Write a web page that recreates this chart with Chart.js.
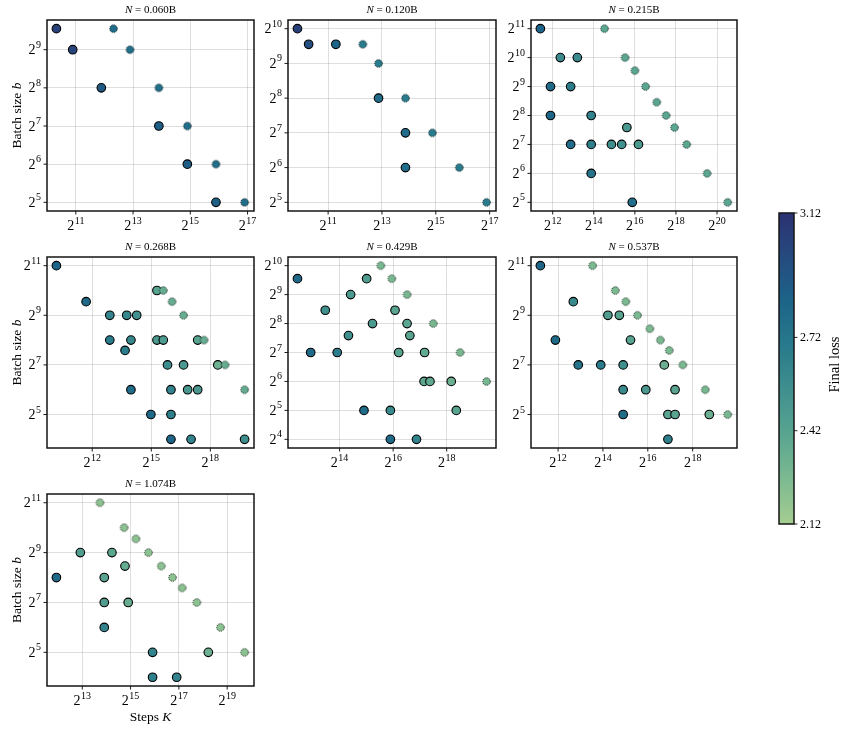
<!DOCTYPE html>
<html>
<head>
<meta charset="utf-8">
<script src="https://cdn.jsdelivr.net/npm/chart.js@4.4.1/dist/chart.umd.min.js"></script>
<style>
html, body { margin: 0; padding: 0; background: #fff; }
#wrap { position: relative; width: 846px; height: 729px; }
#wrap canvas { position: absolute; left: 0; top: 0; }
</style>
</head>
<body>
<div id="wrap"></div>
<script>
// model sizes (panel titles)
const modelSizes = ['0.060B', '0.120B', '0.215B', '0.268B', '0.429B', '0.537B', '1.074B'];

// colorbar
const lossMin = 2.12;
const lossMax = 3.12;
const lossTicks = [2.12, 2.42, 2.72, 3.12];

// N = 0.060B
const runSteps060 = [1280, 1900, 3800, 15300, 30500, 61000];
const runBatch060 = [750, 512, 256, 128, 64, 32];
const runLoss060 = [3.03, 3.01, 2.90, 2.87, 2.87, 2.86];
const optSteps060 = [5100, 7600, 15300, 30500, 61000, 122000];
const optBatch060 = [750, 512, 256, 128, 64, 32];
const optLoss060 = [2.77, 2.76, 2.76, 2.76, 2.76, 2.76];
const xTickExp060 = [11, 13, 15, 17];
const yTickExp060 = [5, 6, 7, 8, 9];

// N = 0.120B
const runSteps120 = [930, 1240, 2500, 7500, 15000, 15000];
const runBatch120 = [1024, 750, 750, 256, 128, 64];
const runLoss120 = [3.04, 2.96, 2.83, 2.79, 2.78, 2.78];
const optSteps120 = [5000, 7500, 15000, 30000, 60000, 121000];
const optBatch120 = [750, 512, 256, 128, 64, 32];
const optLoss120 = [2.68, 2.68, 2.68, 2.68, 2.68, 2.68];
const xTickExp120 = [11, 13, 15, 17];
const yTickExp120 = [5, 6, 7, 8, 9, 10];

// N = 0.215B
const runSteps215 = [2700, 5300, 9400, 3800, 7500, 3800, 15000, 50000, 7500, 15000, 29700, 42000, 74000, 15000, 60000];
const runBatch215 = [2048, 1024, 1024, 512, 512, 256, 256, 192, 128, 128, 128, 128, 128, 64, 32];
const runLoss215 = [2.84, 2.58, 2.58, 2.80, 2.67, 2.82, 2.63, 2.50, 2.78, 2.66, 2.56, 2.55, 2.49, 2.74, 2.77];
const optSteps215 = [23500, 47000, 65500, 94000, 137000, 188000, 250000, 376000, 750000, 1500000];
const optBatch215 = [2048, 1024, 750, 512, 352, 256, 192, 128, 64, 32];
const optLoss215 = [2.40, 2.40, 2.40, 2.40, 2.40, 2.40, 2.40, 2.40, 2.40, 2.40];
const xTickExp215 = [12, 14, 16, 18, 20];
const yTickExp215 = [5, 6, 7, 8, 9, 10, 11];

// N = 0.268B
const runSteps268 = [1160, 3300, 7600, 13800, 19600, 7600, 16000, 13000, 40000, 40000, 50000, 58000, 102000, 168000, 341000, 16000, 65500, 118000, 168000, 32300, 65500, 65500, 133000, 876000];
const runBatch268 = [2048, 750, 512, 512, 512, 256, 256, 192, 1024, 256, 256, 128, 128, 256, 128, 64, 64, 64, 64, 32, 32, 16, 16, 16];
const runLoss268 = [2.83, 2.80, 2.62, 2.60, 2.55, 2.67, 2.60, 2.67, 2.42, 2.48, 2.47, 2.57, 2.48, 2.41, 2.32, 2.79, 2.63, 2.50, 2.50, 2.81, 2.66, 2.82, 2.63, 2.56];
const optSteps268 = [50000, 68000, 102000, 210000, 440000, 876000];
const optBatch268 = [1024, 750, 512, 256, 128, 64];
const optLoss268 = [2.36, 2.36, 2.36, 2.36, 2.36, 2.37];
const xTickExp268 = [12, 15, 18];
const yTickExp268 = [5, 7, 9, 11];

// N = 0.429B
const runSteps429 = [5500, 21800, 11300, 33000, 38400, 68800, 94000, 20600, 101000, 7750, 15400, 75800, 148000, 146000, 170000, 295000, 30800, 61000, 336000, 61000, 120000];
const runBatch429 = [750, 512, 352, 750, 256, 352, 256, 192, 192, 128, 128, 128, 128, 64, 64, 64, 32, 32, 32, 16, 16];
const runLoss429 = [2.80, 2.48, 2.55, 2.46, 2.48, 2.41, 2.40, 2.55, 2.41, 2.80, 2.67, 2.41, 2.37, 2.39, 2.38, 2.33, 2.78, 2.59, 2.41, 2.80, 2.63];
const optSteps429 = [47600, 63300, 94000, 185000, 371000, 736000];
const optBatch429 = [1024, 750, 512, 256, 128, 64];
const optLoss429 = [2.28, 2.28, 2.28, 2.28, 2.28, 2.29];
const xTickExp429 = [14, 16, 18];
const yTickExp429 = [4, 5, 6, 7, 8, 9, 10];

// N = 0.537B
const runSteps537 = [2370, 6560, 3770, 19100, 27200, 38400, 7640, 15300, 30600, 109000, 30600, 61600, 152000, 30600, 122000, 152000, 438000, 122000];
const runBatch537 = [2048, 750, 256, 512, 512, 256, 128, 128, 128, 128, 64, 64, 64, 32, 32, 32, 32, 16];
const runLoss537 = [2.82, 2.59, 2.80, 2.46, 2.42, 2.41, 2.74, 2.68, 2.55, 2.33, 2.59, 2.48, 2.41, 2.77, 2.41, 2.41, 2.33, 2.66];
const optSteps537 = [11900, 24000, 33200, 47600, 69800, 96600, 127000, 193000, 386000, 772000];
const optBatch537 = [2048, 1024, 750, 512, 352, 256, 192, 128, 64, 32];
const optLoss537 = [2.27, 2.27, 2.27, 2.27, 2.27, 2.27, 2.27, 2.27, 2.28, 2.28];
const xTickExp537 = [12, 14, 16, 18];
const yTickExp537 = [5, 7, 9, 11];

// N = 1.074B
const runSteps1074 = [3900, 7750, 19200, 15400, 27900, 15400, 30600, 15400, 61600, 305000, 61600, 123000];
const runBatch1074 = [256, 512, 512, 256, 352, 128, 128, 64, 32, 32, 16, 16];
const runLoss1074 = [2.80, 2.46, 2.40, 2.41, 2.36, 2.46, 2.36, 2.63, 2.63, 2.33, 2.66, 2.63];
const optSteps1074 = [13600, 27200, 38200, 54700, 79000, 109000, 144000, 219000, 432000, 864000];
const optBatch1074 = [2048, 1024, 750, 512, 352, 256, 192, 128, 64, 32];
const optLoss1074 = [2.21, 2.21, 2.21, 2.21, 2.21, 2.21, 2.21, 2.21, 2.21, 2.21];
const xTickExp1074 = [13, 15, 17, 19];
const yTickExp1074 = [5, 7, 9, 11];

const panels = [
    { runK: runSteps060, runB: runBatch060, runL: runLoss060, optK: optSteps060, optB: optBatch060, optL: optLoss060, xExp: xTickExp060, yExp: yTickExp060 },
    { runK: runSteps120, runB: runBatch120, runL: runLoss120, optK: optSteps120, optB: optBatch120, optL: optLoss120, xExp: xTickExp120, yExp: yTickExp120 },
    { runK: runSteps215, runB: runBatch215, runL: runLoss215, optK: optSteps215, optB: optBatch215, optL: optLoss215, xExp: xTickExp215, yExp: yTickExp215 },
    { runK: runSteps268, runB: runBatch268, runL: runLoss268, optK: optSteps268, optB: optBatch268, optL: optLoss268, xExp: xTickExp268, yExp: yTickExp268 },
    { runK: runSteps429, runB: runBatch429, runL: runLoss429, optK: optSteps429, optB: optBatch429, optL: optLoss429, xExp: xTickExp429, yExp: yTickExp429 },
    { runK: runSteps537, runB: runBatch537, runL: runLoss537, optK: optSteps537, optB: optBatch537, optL: optLoss537, xExp: xTickExp537, yExp: yTickExp537 },
    { runK: runSteps1074, runB: runBatch1074, runL: runLoss1074, optK: optSteps1074, optB: optBatch1074, optL: optLoss1074, xExp: xTickExp1074, yExp: yTickExp1074 }
];

// layout: axes boxes [left, top, right, bottom]
const W = 846, H = 729;
const boxes = [
    [47, 20, 254, 211], [288, 20, 496, 211], [531, 20, 737, 211],
    [47, 257, 254, 448], [288, 257, 496, 448], [531, 257, 737, 448],
    [47, 494, 254, 686]
];
const cbarBox = [779, 213, 794, 524];
const serif = '"Liberation Serif", "Times New Roman", serif';

// seaborn "crest" colormap
const crestHex = ['#a5cd90', '#7dba91', '#59a590', '#40908e', '#287a8c', '#1c6488', '#254b7f', '#2c3172'];
const crestPos = crestHex.map((_, i) => i / (crestHex.length - 1));

function hexRgb(h) { return [1, 3, 5].map(i => parseInt(h.slice(i, i + 2), 16)); }

function lossColor(v) {
    const t = Math.min(1, Math.max(0, (v - lossMin) / (lossMax - lossMin)));
    let i = 0;
    while (i < crestPos.length - 2 && t > crestPos[i + 1]) i++;
    const f = (t - crestPos[i]) / (crestPos[i + 1] - crestPos[i]);
    const a = hexRgb(crestHex[i]), b = hexRgb(crestHex[i + 1]);
    return 'rgb(' + a.map((c, k) => Math.round(c + (b[k] - c) * f)).join(',') + ')';
}

// dotted-edge marker for the optimal runs
const starCache = {};
function starMarker(color) {
    if (starCache[color]) return starCache[color];
    const c = document.createElement('canvas');
    c.width = 11; c.height = 11;
    const g = c.getContext('2d');
    g.beginPath();
    g.arc(5.5, 5.5, 3.8, 0, Math.PI * 2);
    g.fillStyle = color;
    g.fill();
    g.setLineDash([1.1, 1.1]);
    g.lineWidth = 1;
    g.strokeStyle = 'rgba(0,0,0,0.8)';
    g.stroke();
    starCache[color] = c;
    return c;
}

function logLimits(vals) {
    const l = vals.map(Math.log2);
    const lo = Math.min(...l), hi = Math.max(...l), m = (hi - lo) * 0.05;
    return [Math.pow(2, lo - m), Math.pow(2, hi + m)];
}

function drawMixed(ctx, parts, x, y, size, align) {
    let w = 0;
    parts.forEach(p => { ctx.font = (p[1] ? 'italic ' : '') + size + 'px ' + serif; w += ctx.measureText(p[0]).width; });
    let cx = align === 'center' ? x - w / 2 : x;
    ctx.textAlign = 'left';
    parts.forEach(p => {
        ctx.font = (p[1] ? 'italic ' : '') + size + 'px ' + serif;
        ctx.fillText(p[0], cx, y);
        cx += ctx.measureText(p[0]).width;
    });
}

function drawPow(ctx, x, y, exp, align) {
    ctx.font = '14px ' + serif;
    const wb = ctx.measureText('2').width;
    ctx.font = '10px ' + serif;
    const we = ctx.measureText(String(exp)).width;
    const w = wb + we + 0.5;
    const x0 = align === 'right' ? x - w : x - w / 2;
    ctx.textAlign = 'left';
    ctx.textBaseline = 'alphabetic';
    ctx.font = '14px ' + serif;
    ctx.fillText('2', x0, y);
    ctx.font = '10px ' + serif;
    ctx.fillText(String(exp), x0 + wb + 0.5, y - 6.5);
}

const panelDeco = {
    id: 'panelDeco',
    afterDraw(chart, args, o) {
        const ctx = chart.ctx, a = chart.chartArea, xs = chart.scales.x, ys = chart.scales.y;
        ctx.save();
        ctx.fillStyle = '#000';
        ctx.strokeStyle = '#000';
        ctx.lineWidth = 0.9;
        xs.ticks.forEach(t => {
            const px = xs.getPixelForValue(t.value);
            ctx.beginPath(); ctx.moveTo(px, a.bottom); ctx.lineTo(px, a.bottom + 3.5); ctx.stroke();
            drawPow(ctx, px, a.bottom + 19, Math.round(Math.log2(t.value)), 'center');
        });
        ys.ticks.forEach(t => {
            const py = ys.getPixelForValue(t.value);
            ctx.beginPath(); ctx.moveTo(a.left, py); ctx.lineTo(a.left - 3.5, py); ctx.stroke();
            drawPow(ctx, a.left - 6, py + 4.5, Math.round(Math.log2(t.value)), 'right');
        });
        ctx.lineWidth = 1.5;
        ctx.strokeStyle = '#141414';
        ctx.strokeRect(a.left, a.top, a.right - a.left, a.bottom - a.top);

        ctx.textBaseline = 'alphabetic';
        drawMixed(ctx, [['N', true], [' = ' + o.title, false]], (a.left + a.right) / 2, a.top - 7, 11, 'center');
        if (o.yLabel) {
            ctx.save();
            ctx.translate(17, (a.top + a.bottom) / 2);
            ctx.rotate(-Math.PI / 2);
            ctx.textBaseline = 'middle';
            drawMixed(ctx, [['Batch size ', false], ['b', true]], 0, 0, 13.5, 'center');
            ctx.restore();
        }
        if (o.xLabel) {
            drawMixed(ctx, [['Steps ', false], ['K', true]], (a.left + a.right) / 2, 721, 13.5, 'center');
        }
        ctx.restore();
    }
};

const wrap = document.getElementById('wrap');
function makeCanvas() {
    const c = document.createElement('canvas');
    c.width = W; c.height = H;
    c.style.width = W + 'px'; c.style.height = H + 'px';
    wrap.appendChild(c);
    return c;
}

function pad(b) { return { left: b[0], top: b[1], right: W - b[2], bottom: H - b[3] }; }

const gridOpts = { color: 'rgba(150,150,150,0.35)', lineWidth: 0.9, drawTicks: false };

panels.forEach((p, i) => {
    const xl = logLimits(p.runK.concat(p.optK));
    const yl = logLimits(p.runB.concat(p.optB));
    const optColors = p.optL.map(lossColor);
    new Chart(makeCanvas(), {
        type: 'scatter',
        data: {
            datasets: [
                {
                    data: p.optK.map((k, j) => ({ x: k, y: p.optB[j] })),
                    pointStyle: optColors.map(starMarker),
                    pointRadius: 4,
                    clip: false
                },
                {
                    data: p.runK.map((k, j) => ({ x: k, y: p.runB[j] })),
                    pointBackgroundColor: p.runL.map(lossColor),
                    pointBorderColor: '#000',
                    pointBorderWidth: 1.1,
                    pointRadius: 4.3,
                    clip: false
                }
            ]
        },
        options: {
            responsive: false,
            animation: false,
            devicePixelRatio: 1,
            layout: { autoPadding: false, padding: pad(boxes[i]) },
            plugins: {
                legend: { display: false },
                tooltip: { enabled: false },
                panelDeco: { title: modelSizes[i], yLabel: i % 3 === 0, xLabel: i === 6 }
            },
            scales: {
                x: {
                    type: 'logarithmic', min: xl[0], max: xl[1],
                    afterBuildTicks: s => { s.ticks = p.xExp.map(e => ({ value: Math.pow(2, e) })); },
                    ticks: { display: false }, grid: gridOpts, border: { display: false }
                },
                y: {
                    type: 'logarithmic', min: yl[0], max: yl[1],
                    afterBuildTicks: s => { s.ticks = p.yExp.map(e => ({ value: Math.pow(2, e) })); },
                    ticks: { display: false }, grid: gridOpts, border: { display: false }
                }
            }
        },
        plugins: [panelDeco]
    });
});

// colorbar
const colorbarDeco = {
    id: 'colorbarDeco',
    beforeDatasetsDraw(chart) {
        const ctx = chart.ctx, a = chart.chartArea, ys = chart.scales.y;
        const y0 = ys.getPixelForValue(lossMin), y1 = ys.getPixelForValue(lossMax);
        const grad = ctx.createLinearGradient(0, y0, 0, y1);
        crestHex.forEach((c, i) => grad.addColorStop(crestPos[i], c));
        ctx.save();
        ctx.fillStyle = grad;
        ctx.fillRect(a.left, a.top, a.right - a.left, a.bottom - a.top);
        ctx.restore();
    },
    afterDraw(chart) {
        const ctx = chart.ctx, a = chart.chartArea, ys = chart.scales.y;
        ctx.save();
        ctx.strokeStyle = '#141414';
        ctx.lineWidth = 1.5;
        ctx.strokeRect(a.left, a.top, a.right - a.left, a.bottom - a.top);
        ctx.lineWidth = 0.9;
        ctx.fillStyle = '#000';
        ctx.font = '12px ' + serif;
        ctx.textAlign = 'left';
        ctx.textBaseline = 'middle';
        ys.ticks.forEach(t => {
            const py = ys.getPixelForValue(t.value);
            ctx.beginPath(); ctx.moveTo(a.right, py); ctx.lineTo(a.right + 3.5, py); ctx.stroke();
            ctx.fillText(t.value.toFixed(2), a.right + 6, py + 0.5);
        });
        ctx.translate(835, (a.top + a.bottom) / 2 - 4);
        ctx.rotate(-Math.PI / 2);
        ctx.textAlign = 'center';
        ctx.font = '14.5px ' + serif;
        ctx.fillText('Final loss', 0, 0);
        ctx.restore();
    }
};

new Chart(makeCanvas(), {
    type: 'scatter',
    data: { datasets: [] },
    options: {
        responsive: false,
        animation: false,
        devicePixelRatio: 1,
        layout: { autoPadding: false, padding: pad(cbarBox) },
        plugins: { legend: { display: false }, tooltip: { enabled: false } },
        scales: {
            x: { type: 'linear', display: false, min: 0, max: 1 },
            y: {
                type: 'linear', min: lossMin, max: lossMax,
                afterBuildTicks: s => { s.ticks = lossTicks.map(v => ({ value: v })); },
                ticks: { display: false }, grid: { display: false, drawTicks: false }, border: { display: false }
            }
        }
    },
    plugins: [colorbarDeco]
});
</script>
</body>
</html>
